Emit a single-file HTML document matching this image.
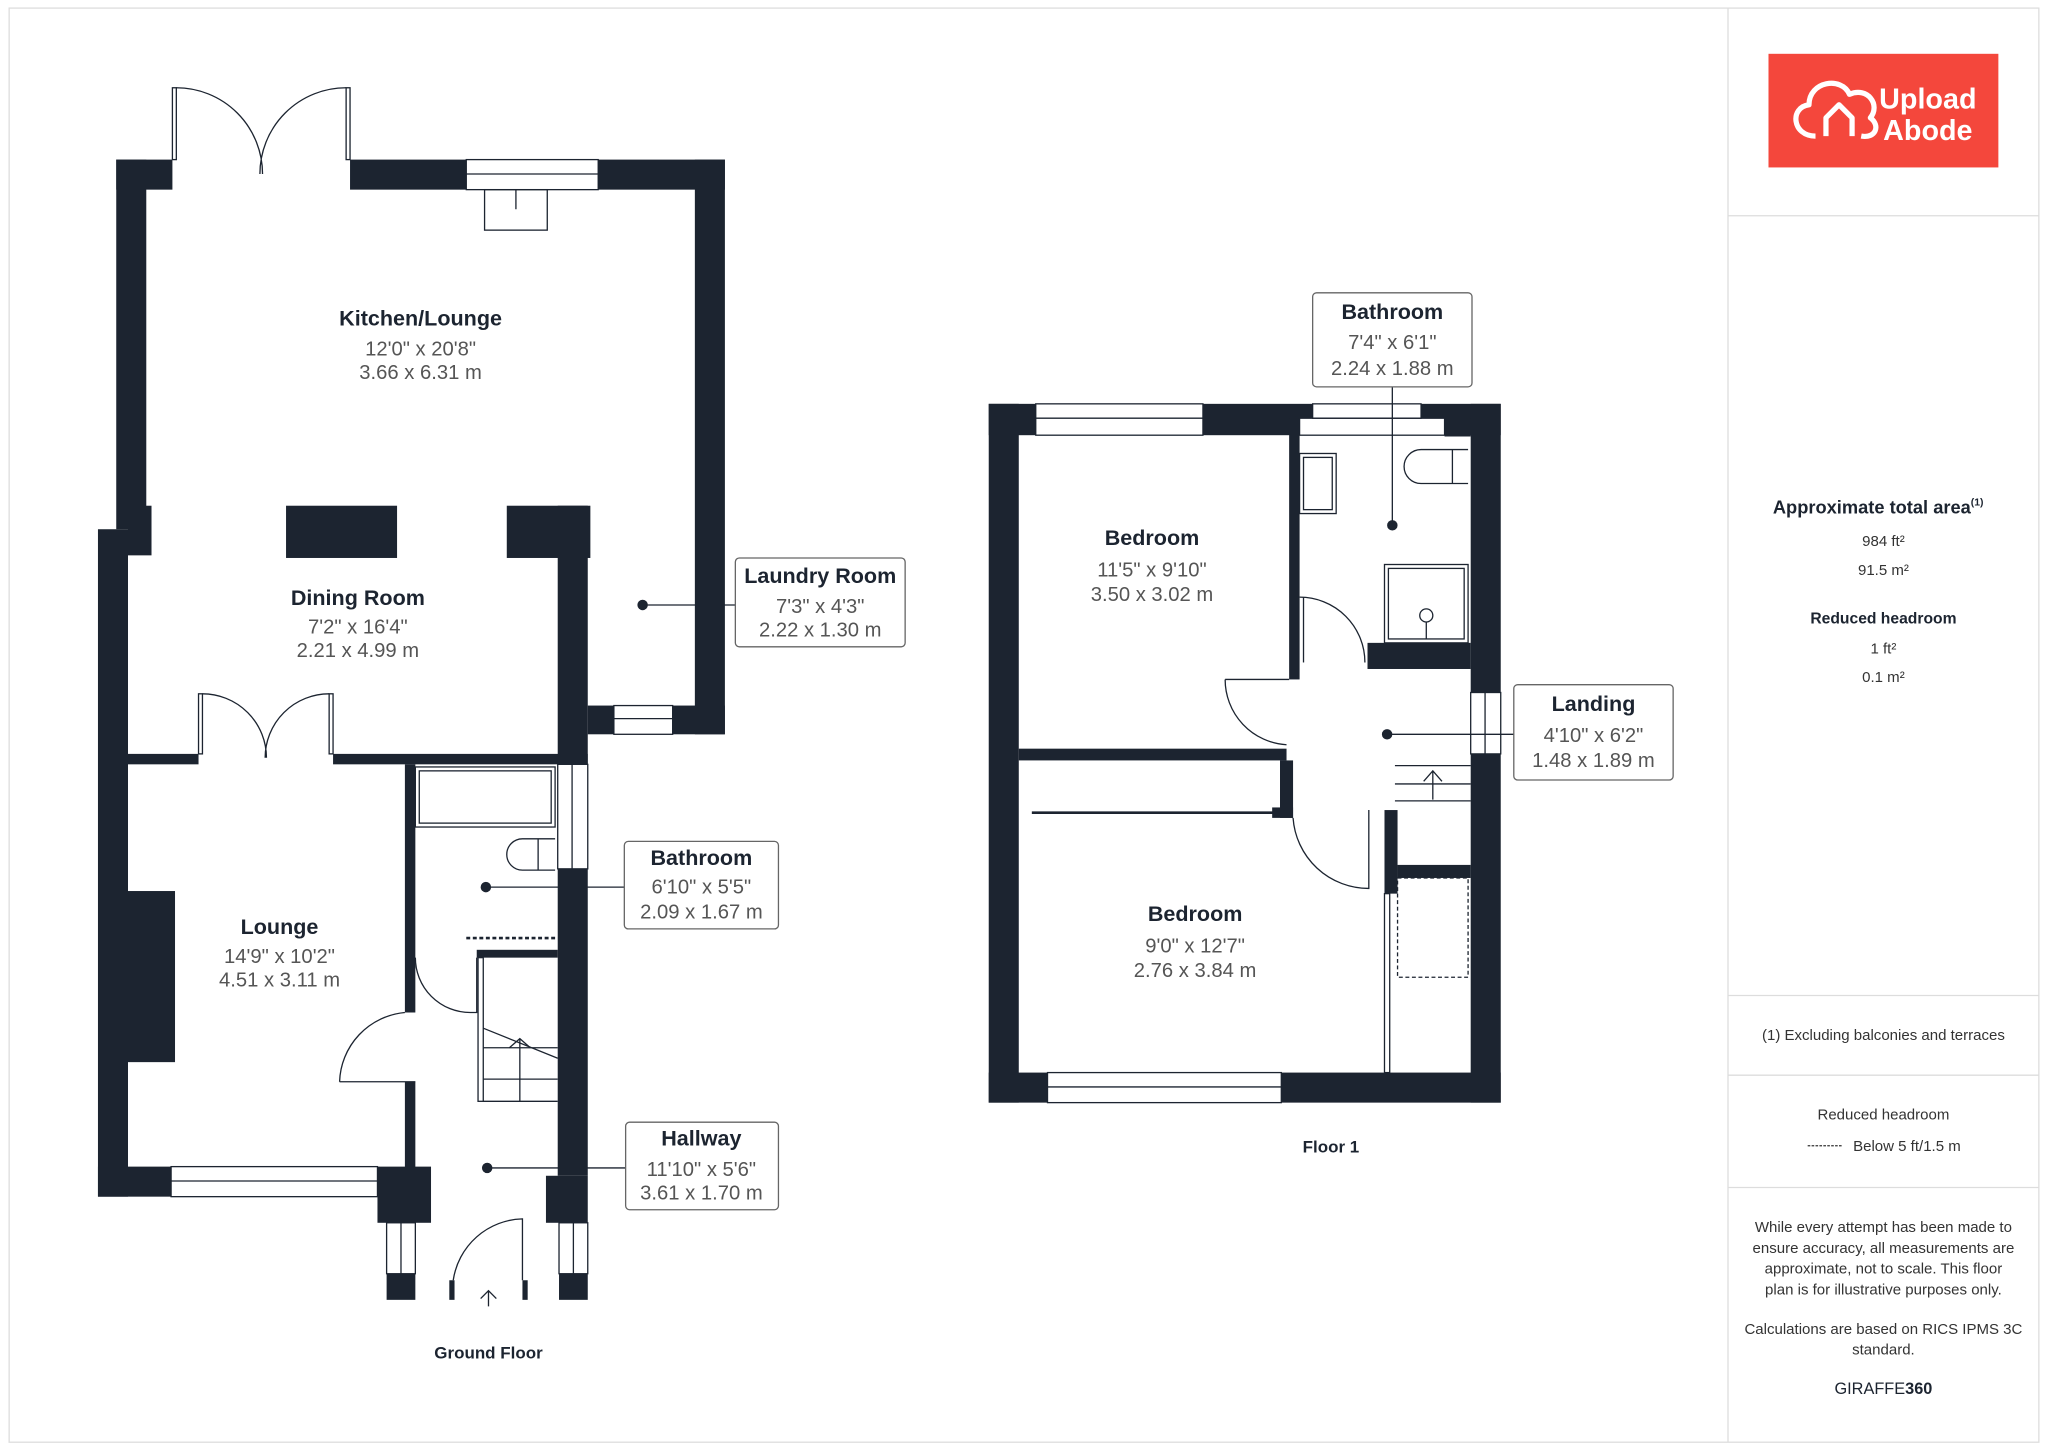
<!DOCTYPE html>
<html><head><meta charset="utf-8"><style>
html,body{margin:0;padding:0;background:#fff;}
svg{display:block;}
text{font-family:"Liberation Sans",sans-serif;}
.t{font-weight:bold;font-size:16.5px;fill:#1c2430;text-anchor:middle;}
.d{font-size:15.5px;fill:#555;text-anchor:middle;}
.s{font-size:11.5px;fill:#333;text-anchor:middle;}
.sb{font-size:12px;font-weight:bold;fill:#1c2430;text-anchor:middle;}
</style></head><body>
<svg width="2048" height="1449" viewBox="0 0 1568 1109" xmlns="http://www.w3.org/2000/svg">
<rect x="7" y="6" width="1554" height="1098" fill="#fff" stroke="#ddd" stroke-width="1"/>
<g stroke="#ddd" stroke-width="1"><line x1="1323" y1="6" x2="1323" y2="1104"/><line x1="1323" y1="165" x2="1561" y2="165"/><line x1="1323" y1="762" x2="1561" y2="762"/><line x1="1323" y1="823" x2="1561" y2="823"/><line x1="1323" y1="909" x2="1561" y2="909"/></g>

<g fill="#1c2430">
<rect x="89" y="122" width="43" height="23"/><rect x="268" y="122" width="89" height="23"/><rect x="458" y="122" width="97" height="23"/>
<rect x="89" y="122" width="23" height="283"/><rect x="532" y="122" width="23" height="440"/>
<rect x="75" y="405" width="23" height="511"/><rect x="98" y="387" width="18" height="38"/>
<rect x="219" y="387" width="85" height="40"/><rect x="388" y="387" width="64" height="40"/>
<rect x="427" y="387" width="23" height="198"/>
<rect x="450" y="540" width="20" height="22"/><rect x="515" y="540" width="40" height="22"/>
<rect x="98" y="577" width="54" height="8"/><rect x="255" y="577" width="195" height="8"/>
<rect x="98" y="682" width="36" height="131"/>
<rect x="75" y="893" width="56" height="23"/><rect x="289" y="893" width="41" height="43"/>
<rect x="310" y="585" width="8" height="190"/><rect x="310" y="828" width="8" height="70"/>
<rect x="427" y="665" width="23" height="235"/><rect x="418" y="900" width="32" height="36"/>
<rect x="296" y="975" width="22" height="20"/><rect x="428" y="975" width="22" height="20"/>
<rect x="344" y="980" width="4" height="15"/><rect x="400" y="980" width="4" height="15"/>
<rect x="365" y="727" width="62" height="6"/>
<rect x="757" y="309" width="23" height="535"/><rect x="757" y="309" width="36" height="24"/>
<rect x="921" y="309" width="84" height="24"/><rect x="1088" y="309" width="61" height="24"/>
<rect x="1106" y="320" width="20" height="14"/>
<rect x="1126" y="309" width="23" height="221"/><rect x="1126" y="577" width="23" height="267"/>
<rect x="757" y="821" width="45" height="23"/><rect x="981" y="821" width="168" height="23"/>
<rect x="987" y="320" width="8" height="200"/><rect x="1047" y="492" width="79" height="20"/>
<rect x="780" y="573" width="205" height="9"/><rect x="980" y="582" width="10" height="44"/>
<rect x="974" y="618" width="16" height="8"/>
<rect x="1060" y="620" width="10" height="64"/><rect x="1070" y="662" width="56" height="10"/>
</g>
<rect x="995" y="320" width="111" height="13" fill="#fff" stroke="#1c2430" stroke-width="1"/>

<g fill="none" stroke="#1c2430" stroke-width="1">
<rect x="357" y="122" width="101" height="23"/><line x1="357" y1="133" x2="458" y2="133"/>
<rect x="470" y="540" width="45" height="22"/><line x1="470" y1="550" x2="515" y2="550"/>
<rect x="131" y="893" width="158" height="23"/><line x1="131" y1="904" x2="289" y2="904"/>
<rect x="427" y="585" width="23" height="80"/><line x1="438" y1="585" x2="438" y2="665"/>
<rect x="296" y="936" width="22" height="39"/><line x1="307" y1="936" x2="307" y2="975"/>
<rect x="428" y="936" width="22" height="39"/><line x1="439" y1="936" x2="439" y2="975"/>
<rect x="793" y="309" width="128" height="24"/><line x1="793" y1="320" x2="921" y2="320"/>
<rect x="1005" y="309" width="83" height="11"/>
<rect x="1126" y="530" width="23" height="47"/><line x1="1137" y1="530" x2="1137" y2="577"/>
<rect x="802" y="821" width="179" height="23"/><line x1="802" y1="832" x2="981" y2="832"/>
<rect x="132" y="67" width="3" height="55"/><rect x="265" y="67" width="3" height="55"/>
<path d="M135 67 A66 66 0 0 1 201 133 M265 67 A66 66 0 0 0 199 133"/>
<rect x="152" y="531" width="3" height="46"/><rect x="252" y="531" width="3" height="46"/>
<path d="M155 531 A49 49 0 0 1 204 580 M252 531 A49 49 0 0 0 203 580"/>
<path d="M260 828 L318 828 M260 828 A55 55 0 0 1 310 775"/>
<path d="M318 733 A42 42 0 0 0 360 775 L365 775 L365 733"/>
<path d="M347 980 A55 55 0 0 1 400 933 L400 980"/>
<path d="M938 520 L987 520 M938 520 A50 50 0 0 0 985 570"/>
<path d="M995 457 A50 50 0 0 1 1045 507"/><line x1="998" y1="457" x2="998" y2="507"/>
<path d="M990 626 A58 58 0 0 0 1048 680 L1048 620"/>
<rect x="371" y="145" width="48" height="31"/><line x1="395" y1="145" x2="395" y2="160"/>
<rect x="318" y="587" width="107" height="46"/><rect x="321" y="590" width="101" height="40"/>
<path d="M425 642 L400 642 A12 12 0 0 0 400 666 L425 666 M412 642 L412 666"/>
<rect x="366" y="733" width="4" height="110"/>
<line x1="370" y1="802" x2="427" y2="802"/><line x1="370" y1="787" x2="427" y2="810"/><line x1="370" y1="826" x2="427" y2="826"/><line x1="370" y1="843" x2="427" y2="843"/><line x1="398" y1="795" x2="398" y2="843"/>
<path d="M390 802 L398 795 L406 802"/>
<line x1="357" y1="718" x2="425" y2="718" stroke-dasharray="3,2" stroke-width="2"/>
<rect x="995" y="347" width="28" height="46"/><rect x="998" y="350" width="22" height="40"/>
<path d="M1124 344 L1088 344 A13 13 0 0 0 1088 370 L1124 370 M1112 344 L1112 370"/>
<rect x="1060" y="432" width="64" height="60"/><rect x="1063" y="435" width="58" height="54"/>
<circle cx="1092" cy="471" r="5"/><line x1="1092" y1="476" x2="1092" y2="489"/>
<line x1="1068" y1="586" x2="1126" y2="586"/><line x1="1068" y1="600" x2="1126" y2="600"/><line x1="1068" y1="613" x2="1126" y2="613"/>
<path d="M1090 598 L1097 590 L1104 598 M1097 590 L1097 612"/>
<line x1="790" y1="622" x2="980" y2="622" stroke-width="2"/>
<rect x="1060" y="684" width="4" height="137"/>
<rect x="1070" y="672" width="54" height="76" stroke-dasharray="3,2"/>
<line x1="492" y1="463" x2="563" y2="463"/><line x1="372" y1="679" x2="478" y2="679"/>
<line x1="373" y1="894" x2="479" y2="894"/><line x1="1066" y1="296" x2="1066" y2="402"/>
<line x1="1062" y1="562" x2="1159" y2="562"/>
<path d="M374 1000 L374 988 M368 994 L374 988 L380 994"/>
</g>
<g fill="#1c2430"><circle cx="492" cy="463" r="4"/><circle cx="372" cy="679" r="4"/><circle cx="373" cy="894" r="4"/><circle cx="1066" cy="402" r="4"/><circle cx="1062" cy="562" r="4"/></g>

<g fill="#fff" stroke="#666" stroke-width="1"><rect x="563" y="427" width="130" height="68" rx="3"/><rect x="478" y="644" width="118" height="67" rx="3"/><rect x="479" y="859" width="117" height="67" rx="3"/><rect x="1005" y="224" width="122" height="72" rx="3"/><rect x="1159" y="524" width="122" height="73" rx="3"/></g>

<text class="t" x="322" y="249">Kitchen/Lounge</text><text class="d" x="322" y="272">12'0" x 20'8"</text><text class="d" x="322" y="290">3.66 x 6.31 m</text>
<text class="t" x="274" y="463">Dining Room</text><text class="d" x="274" y="485">7'2" x 16'4"</text><text class="d" x="274" y="503">2.21 x 4.99 m</text>
<text class="t" x="214" y="715">Lounge</text><text class="d" x="214" y="737">14'9" x 10'2"</text><text class="d" x="214" y="755">4.51 x 3.11 m</text>
<text class="t" x="628" y="446">Laundry Room</text><text class="d" x="628" y="469">7'3" x 4'3"</text><text class="d" x="628" y="487">2.22 x 1.30 m</text>
<text class="t" x="537" y="662">Bathroom</text><text class="d" x="537" y="684">6'10" x 5'5"</text><text class="d" x="537" y="703">2.09 x 1.67 m</text>
<text class="t" x="537" y="877">Hallway</text><text class="d" x="537" y="900">11'10" x 5'6"</text><text class="d" x="537" y="918">3.61 x 1.70 m</text>
<text class="t" x="1066" y="244">Bathroom</text><text class="d" x="1066" y="267">7'4" x 6'1"</text><text class="d" x="1066" y="287">2.24 x 1.88 m</text>
<text class="t" x="1220" y="544">Landing</text><text class="d" x="1220" y="568">4'10" x 6'2"</text><text class="d" x="1220" y="587">1.48 x 1.89 m</text>
<text class="t" x="882" y="417">Bedroom</text><text class="d" x="882" y="441">11'5" x 9'10"</text><text class="d" x="882" y="460">3.50 x 3.02 m</text>
<text class="t" x="915" y="705">Bedroom</text><text class="d" x="915" y="729">9'0" x 12'7"</text><text class="d" x="915" y="748">2.76 x 3.84 m</text>
<text class="sb" x="374" y="1040" style="font-size:13px">Ground Floor</text>
<text class="sb" x="1019" y="882" style="font-size:13px">Floor 1</text>

<rect x="1354" y="41" width="176" height="87" fill="#f4473c"/>
<path d="M1390 104 C1372 104 1370 82 1385 80 C1385 62 1410 58 1416 72 C1430 66 1440 80 1432 90 C1440 96 1436 106 1425 104 M1398 104 L1398 90 L1408 80 L1418 90 L1418 104" fill="none" stroke="#fff" stroke-width="4" stroke-linejoin="round"/>
<text x="1476" y="83" style="font-size:22px;font-weight:bold;fill:#fff;text-anchor:middle">Upload</text>
<text x="1476" y="107" style="font-size:22px;font-weight:bold;fill:#fff;text-anchor:middle">Abode</text>
<text class="sb" x="1438" y="393" style="font-size:14px">Approximate total area<tspan dy="-6" style="font-size:8px">(1)</tspan></text>
<text class="s" x="1442" y="418">984 ft²</text><text class="s" x="1442" y="440">91.5 m²</text>
<text class="sb" x="1442" y="477">Reduced headroom</text>
<text class="s" x="1442" y="500">1 ft²</text><text class="s" x="1442" y="522">0.1 m²</text>
<text class="s" x="1442" y="796">(1) Excluding balconies and terraces</text>
<text class="s" x="1442" y="857">Reduced headroom</text>
<line x1="1384" y1="877" x2="1410" y2="877" stroke="#333" stroke-dasharray="2,1"/>
<text class="s" x="1460" y="881">Below 5 ft/1.5 m</text>
<text class="s" x="1442" y="943">While every attempt has been made to</text>
<text class="s" x="1442" y="959">ensure accuracy, all measurements are</text>
<text class="s" x="1442" y="975">approximate, not to scale. This floor</text>
<text class="s" x="1442" y="991">plan is for illustrative purposes only.</text>
<text class="s" x="1442" y="1021">Calculations are based on RICS IPMS 3C</text>
<text class="s" x="1442" y="1037">standard.</text>
<text x="1442" y="1067" style="font-size:12.5px;fill:#1c2430;text-anchor:middle">GIRAFFE<tspan font-weight="bold">360</tspan></text>
</svg>
</body></html>
